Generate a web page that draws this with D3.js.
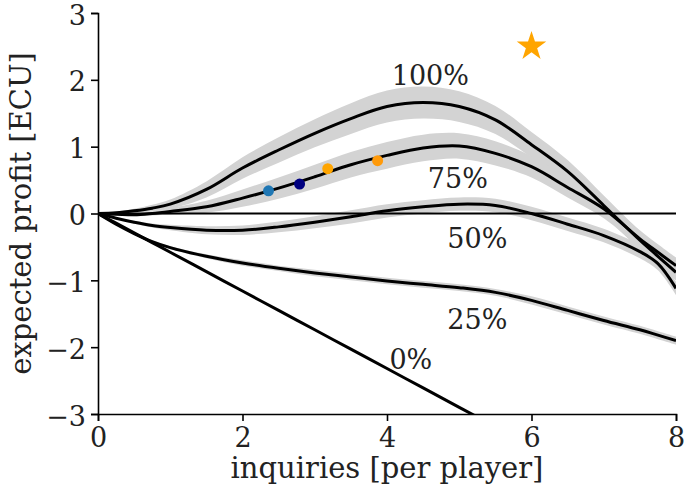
<!DOCTYPE html>
<html>
<head>
<meta charset="utf-8">
<script src="https://cdn.jsdelivr.net/npm/d3@7"></script>
<style>
  body { margin: 0; background: #fff; }
  text { font-family: "DejaVu Serif", serif; }
</style>
</head>
<body>
<div id="chart"></div>
<script>
// data
const xs = [0, 0.25, 0.5, 0.75, 1, 1.5, 2, 2.5, 3, 3.5, 4, 4.5, 5, 5.5, 6, 6.5, 7, 7.5, 7.75, 8];

const p100 = [0, 0.01, 0.04, 0.08, 0.14, 0.36, 0.68, 0.95, 1.2, 1.42, 1.6, 1.66, 1.6, 1.4, 1.03, 0.63, 0.12, -0.4, -0.64, -0.88];
const p75  = [0, -0.01, -0.02, 0.0, 0.03, 0.1, 0.23, 0.38, 0.55, 0.73, 0.87, 0.98, 1.01, 0.9, 0.7, 0.39, 0.07, -0.38, -0.58, -0.78];
const p50  = [0, -0.07, -0.13, -0.18, -0.21, -0.25, -0.25, -0.2, -0.13, -0.05, 0.04, 0.1, 0.14, 0.12, 0.0, -0.16, -0.33, -0.57, -0.75, -1.12];
const p25  = [0, -0.16, -0.3, -0.42, -0.51, -0.64, -0.74, -0.82, -0.89, -0.95, -1.01, -1.06, -1.11, -1.18, -1.3, -1.45, -1.6, -1.74, -1.82, -1.9];
const p0   = [0, -0.145, -0.29, -0.435, -0.58, -0.87, -1.16, -1.45, -1.74, -2.03, -2.32, -2.61, -2.9, -3.19, -3.48, -3.77, -4.06, -4.35, -4.5, -4.64];

// half width of the grey band around each curve
const s100 = [0, 0.01, 0.03, 0.05, 0.07, 0.12, 0.16, 0.19, 0.21, 0.23, 0.24, 0.24, 0.23, 0.21, 0.19, 0.17, 0.15, 0.14, 0.13, 0.12];
const s75  = [0, 0.01, 0.02, 0.03, 0.05, 0.09, 0.13, 0.16, 0.18, 0.19, 0.2, 0.2, 0.19, 0.18, 0.16, 0.15, 0.14, 0.13, 0.12, 0.12];
const s50  = [0, 0.01, 0.02, 0.03, 0.04, 0.06, 0.07, 0.08, 0.09, 0.1, 0.1, 0.1, 0.1, 0.1, 0.1, 0.1, 0.1, 0.1, 0.1, 0.1];
const s25  = [0, 0.005, 0.01, 0.015, 0.02, 0.03, 0.04, 0.04, 0.05, 0.05, 0.05, 0.05, 0.05, 0.05, 0.06, 0.06, 0.06, 0.06, 0.06, 0.06];
const s0   = [0, 0, 0, 0, 0, 0, 0, 0, 0, 0, 0, 0, 0, 0, 0, 0, 0, 0, 0, 0];

const seriesLabels = ["100%", "75%", "50%", "25%", "0%"];
const labelPos = [[4.6, 2.07], [4.98, 0.53], [5.25, -0.38], [5.25, -1.58], [4.33, -2.18]];

const dotX = [2.36, 2.79, 3.18, 3.87];
const dotY = [0.34, 0.44, 0.67, 0.79];
const dotColors = ["#1f77b4", "#000080", "#ffa500", "#ff9a0a"];

const starPoint = [6, 2.5];

const xTicks = [0, 2, 4, 6, 8];
const yTicks = [-3, -2, -1, 0, 1, 2, 3];

// dimensions
const dimensions = {
    width: 685,
    height: 499,
    margin: { top: 13, right: 9, bottom: 85, left: 98 },
};
dimensions.boundedWidth = dimensions.width - dimensions.margin.left - dimensions.margin.right;
dimensions.boundedHeight = dimensions.height - dimensions.margin.top - dimensions.margin.bottom;

const svg = d3.select("#chart")
    .append("svg")
    .attr("width", dimensions.width)
    .attr("height", dimensions.height);

const bounds = svg.append("g")
    .attr("transform", `translate(${dimensions.margin.left},${dimensions.margin.top})`);

const x = d3.scaleLinear().domain([0, 8]).range([0, dimensions.boundedWidth]);
const y = d3.scaleLinear().domain([-3, 3]).range([dimensions.boundedHeight, 0]);

svg.append("defs").append("clipPath")
    .attr("id", "clip")
    .append("rect")
    .attr("width", dimensions.boundedWidth)
    .attr("height", dimensions.boundedHeight);

const series = [
    { ys: p100, sd: s100 },
    { ys: p75, sd: s75 },
    { ys: p50, sd: s50 },
    { ys: p25, sd: s25 },
    { ys: p0, sd: s0 },
].map(s => s.ys.map((v, i) => ({ x: xs[i], y: v, sd: s.sd[i] })));

const plot = bounds.append("g").attr("clip-path", "url(#clip)");

const area = d3.area()
    .x(d => x(d.x))
    .y0(d => y(d.y - d.sd))
    .y1(d => y(d.y + d.sd))
    .curve(d3.curveCatmullRom);

const line = d3.line()
    .x(d => x(d.x))
    .y(d => y(d.y))
    .curve(d3.curveCatmullRom);

plot.selectAll("path.band")
    .data(series)
    .join("path")
    .attr("class", "band")
    .attr("d", area)
    .attr("fill", "#d3d3d3");

// zero line
plot.append("line")
    .attr("x1", x(0)).attr("x2", x(8))
    .attr("y1", y(0)).attr("y2", y(0))
    .attr("stroke", "black")
    .attr("stroke-width", 2);

plot.selectAll("path.curve")
    .data(series)
    .join("path")
    .attr("class", "curve")
    .attr("d", line)
    .attr("fill", "none")
    .attr("stroke", "black")
    .attr("stroke-width", 3);

bounds.selectAll("circle.dot")
    .data(dotX)
    .join("circle")
    .attr("class", "dot")
    .attr("cx", d => x(d))
    .attr("cy", (d, i) => y(dotY[i]))
    .attr("r", 5.5)
    .attr("fill", (d, i) => dotColors[i]);

bounds.append("path")
    .attr("d", d3.symbol().type(d3.symbolStar).size(270)())
    .attr("transform", `translate(${x(starPoint[0])},${y(starPoint[1])})`)
    .attr("fill", "#ffa500");

bounds.selectAll("text.lab")
    .data(seriesLabels)
    .join("text")
    .attr("class", "lab")
    .attr("x", (d, i) => x(labelPos[i][0]))
    .attr("y", (d, i) => y(labelPos[i][1]))
    .attr("text-anchor", "middle")
    .attr("dominant-baseline", "central")
    .style("font-size", "27px")
    .style("fill", "#222")
    .text(d => d);

// axes
const fmt = d => d < 0 ? "\u2212" + Math.abs(d) : String(d);

const xAxis = bounds.append("g")
    .attr("transform", `translate(0,${dimensions.boundedHeight})`)
    .call(d3.axisBottom(x).tickValues(xTicks).tickFormat(fmt).tickSizeOuter(0).tickSize(7).tickPadding(7));

const yAxis = bounds.append("g")
    .call(d3.axisLeft(y).tickValues(yTicks).tickFormat(fmt).tickSizeOuter(0).tickSize(7).tickPadding(5));

yAxis.selectAll(".tick text").attr("dy", "0.41em");

[xAxis, yAxis].forEach(a => {
    a.select(".domain").attr("stroke-width", 1.6);
    a.selectAll(".tick line").attr("stroke-width", 1.6);
    a.selectAll(".tick text")
        .style("font-family", "DejaVu Serif")
        .style("font-size", "27px")
        .attr("fill", "#222");
});

svg.append("text")
    .attr("x", dimensions.margin.left + dimensions.boundedWidth / 2)
    .attr("y", 478)
    .attr("text-anchor", "middle")
    .style("font-size", "29px")
    .style("fill", "#222")
    .text("inquiries [per player]");

svg.append("text")
    .attr("transform", `translate(21,${dimensions.margin.top + dimensions.boundedHeight / 2}) rotate(-90)`)
    .attr("text-anchor", "middle")
    .attr("dominant-baseline", "central")
    .style("font-size", "29px")
    .style("fill", "#222")
    .text("expected profit [ECU]");
</script>
</body>
</html>
